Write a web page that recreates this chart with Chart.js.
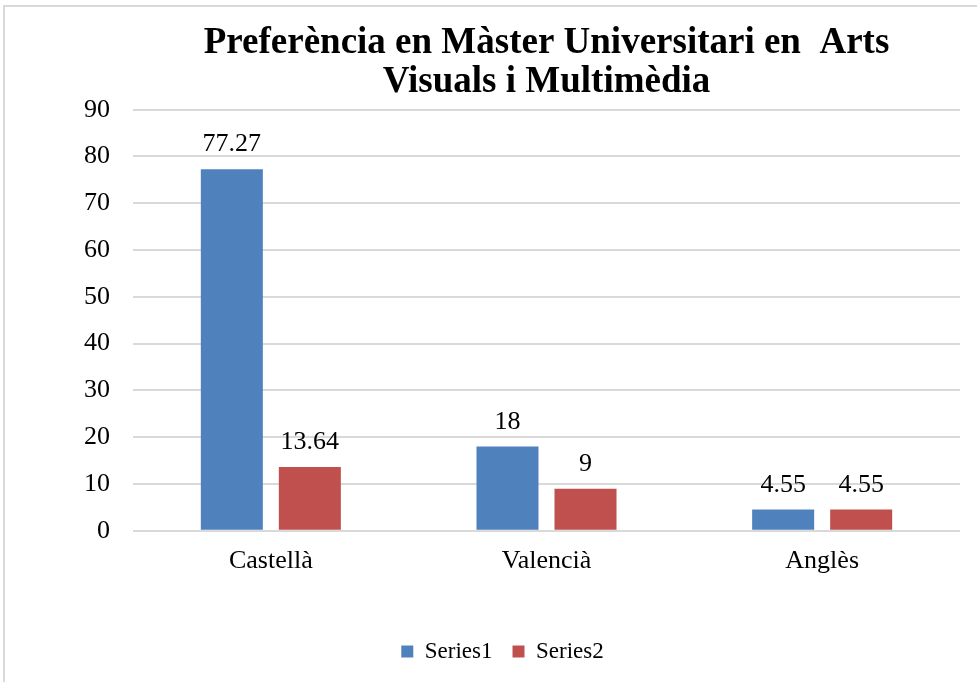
<!DOCTYPE html>
<html>
<head>
<meta charset="utf-8">
<script src="https://cdn.jsdelivr.net/npm/chart.js@4"></script>
<style>
  html, body { margin: 0; padding: 0; background: #fff; overflow: hidden; }
  #frame {
    position: absolute; left: 3px; top: 5px;
    width: 996px; height: 680px;
    border: 2px solid #d9d9d9; background: #fff;
  }
</style>
</head>
<body>
<div id="frame"><canvas id="barChart" width="996" height="680"></canvas></div>
<script>
var categories = ['Castellà', 'Valencià', 'Anglès'];
var series1 = [77.27, 18, 4.55];
var series2 = [13.64, 9, 4.55];
var yTicks = [0, 10, 20, 30, 40, 50, 60, 70, 80, 90];

var serif = "'Liberation Serif', 'Times New Roman', serif";

// writes each bar's value just above it
var valueLabels = {
  id: 'valueLabels',
  afterDatasetsDraw: function(chart) {
    var ctx = chart.ctx;
    ctx.save();
    ctx.font = '26px ' + serif;
    ctx.fillStyle = '#000';
    ctx.textAlign = 'center';
    ctx.textBaseline = 'alphabetic';
    chart.data.datasets.forEach(function(ds, i) {
      chart.getDatasetMeta(i).data.forEach(function(bar, j) {
        ctx.fillText(String(ds.data[j]), bar.x, bar.y - 18);
      });
    });
    ctx.restore();
  }
};

var ctx = document.getElementById('barChart');
var barChart = new Chart(ctx, {
  type: 'bar',
  data: {
    labels: categories,
    datasets: [{
      label: 'Series1',
      data: series1,
      backgroundColor: '#4f81bd'
    }, {
      label: 'Series2',
      data: series2,
      backgroundColor: '#c0504d'
    }]
  },
  options: {
    responsive: false,
    animation: false,
    categoryPercentage: 0.566,
    barPercentage: 0.795,
    layout: { padding: { left: 40, right: 41, top: 0, bottom: 14 } },
    plugins: {
      title: {
        display: true,
        fullSize: false,
        text: ['Preferència en Màster Universitari en  Arts', 'Visuals i Multimèdia'],
        color: '#000',
        font: { family: serif, size: 37, weight: 'bold', lineHeight: 1.05 },
        padding: { top: 17, bottom: 8 }
      },
      legend: {
        position: 'bottom',
        labels: {
          color: '#000',
          font: { family: serif, size: 23 },
          boxWidth: 12,
          boxHeight: 12,
          padding: 20
        }
      },
      tooltip: { enabled: false }
    },
    scales: {
      x: {
        grid: { display: false, drawTicks: false },
        border: { display: false },
        ticks: {
          color: '#000',
          font: { family: serif, size: 26 },
          padding: 15
        },
        afterFit: function(axis) { axis.height += 28; }
      },
      y: {
        min: 0,
        max: 90,
        afterBuildTicks: function(axis) {
          axis.ticks = yTicks.map(function(v) { return { value: v }; });
        },
        grid: { color: '#d9d9d9', lineWidth: 2, drawTicks: false },
        border: { display: false },
        ticks: {
          color: '#000',
          font: { family: serif, size: 26 },
          padding: 23
        },
        afterFit: function(axis) { axis.width = 88; }
      }
    }
  },
  plugins: [valueLabels]
});
</script>
</body>
</html>
